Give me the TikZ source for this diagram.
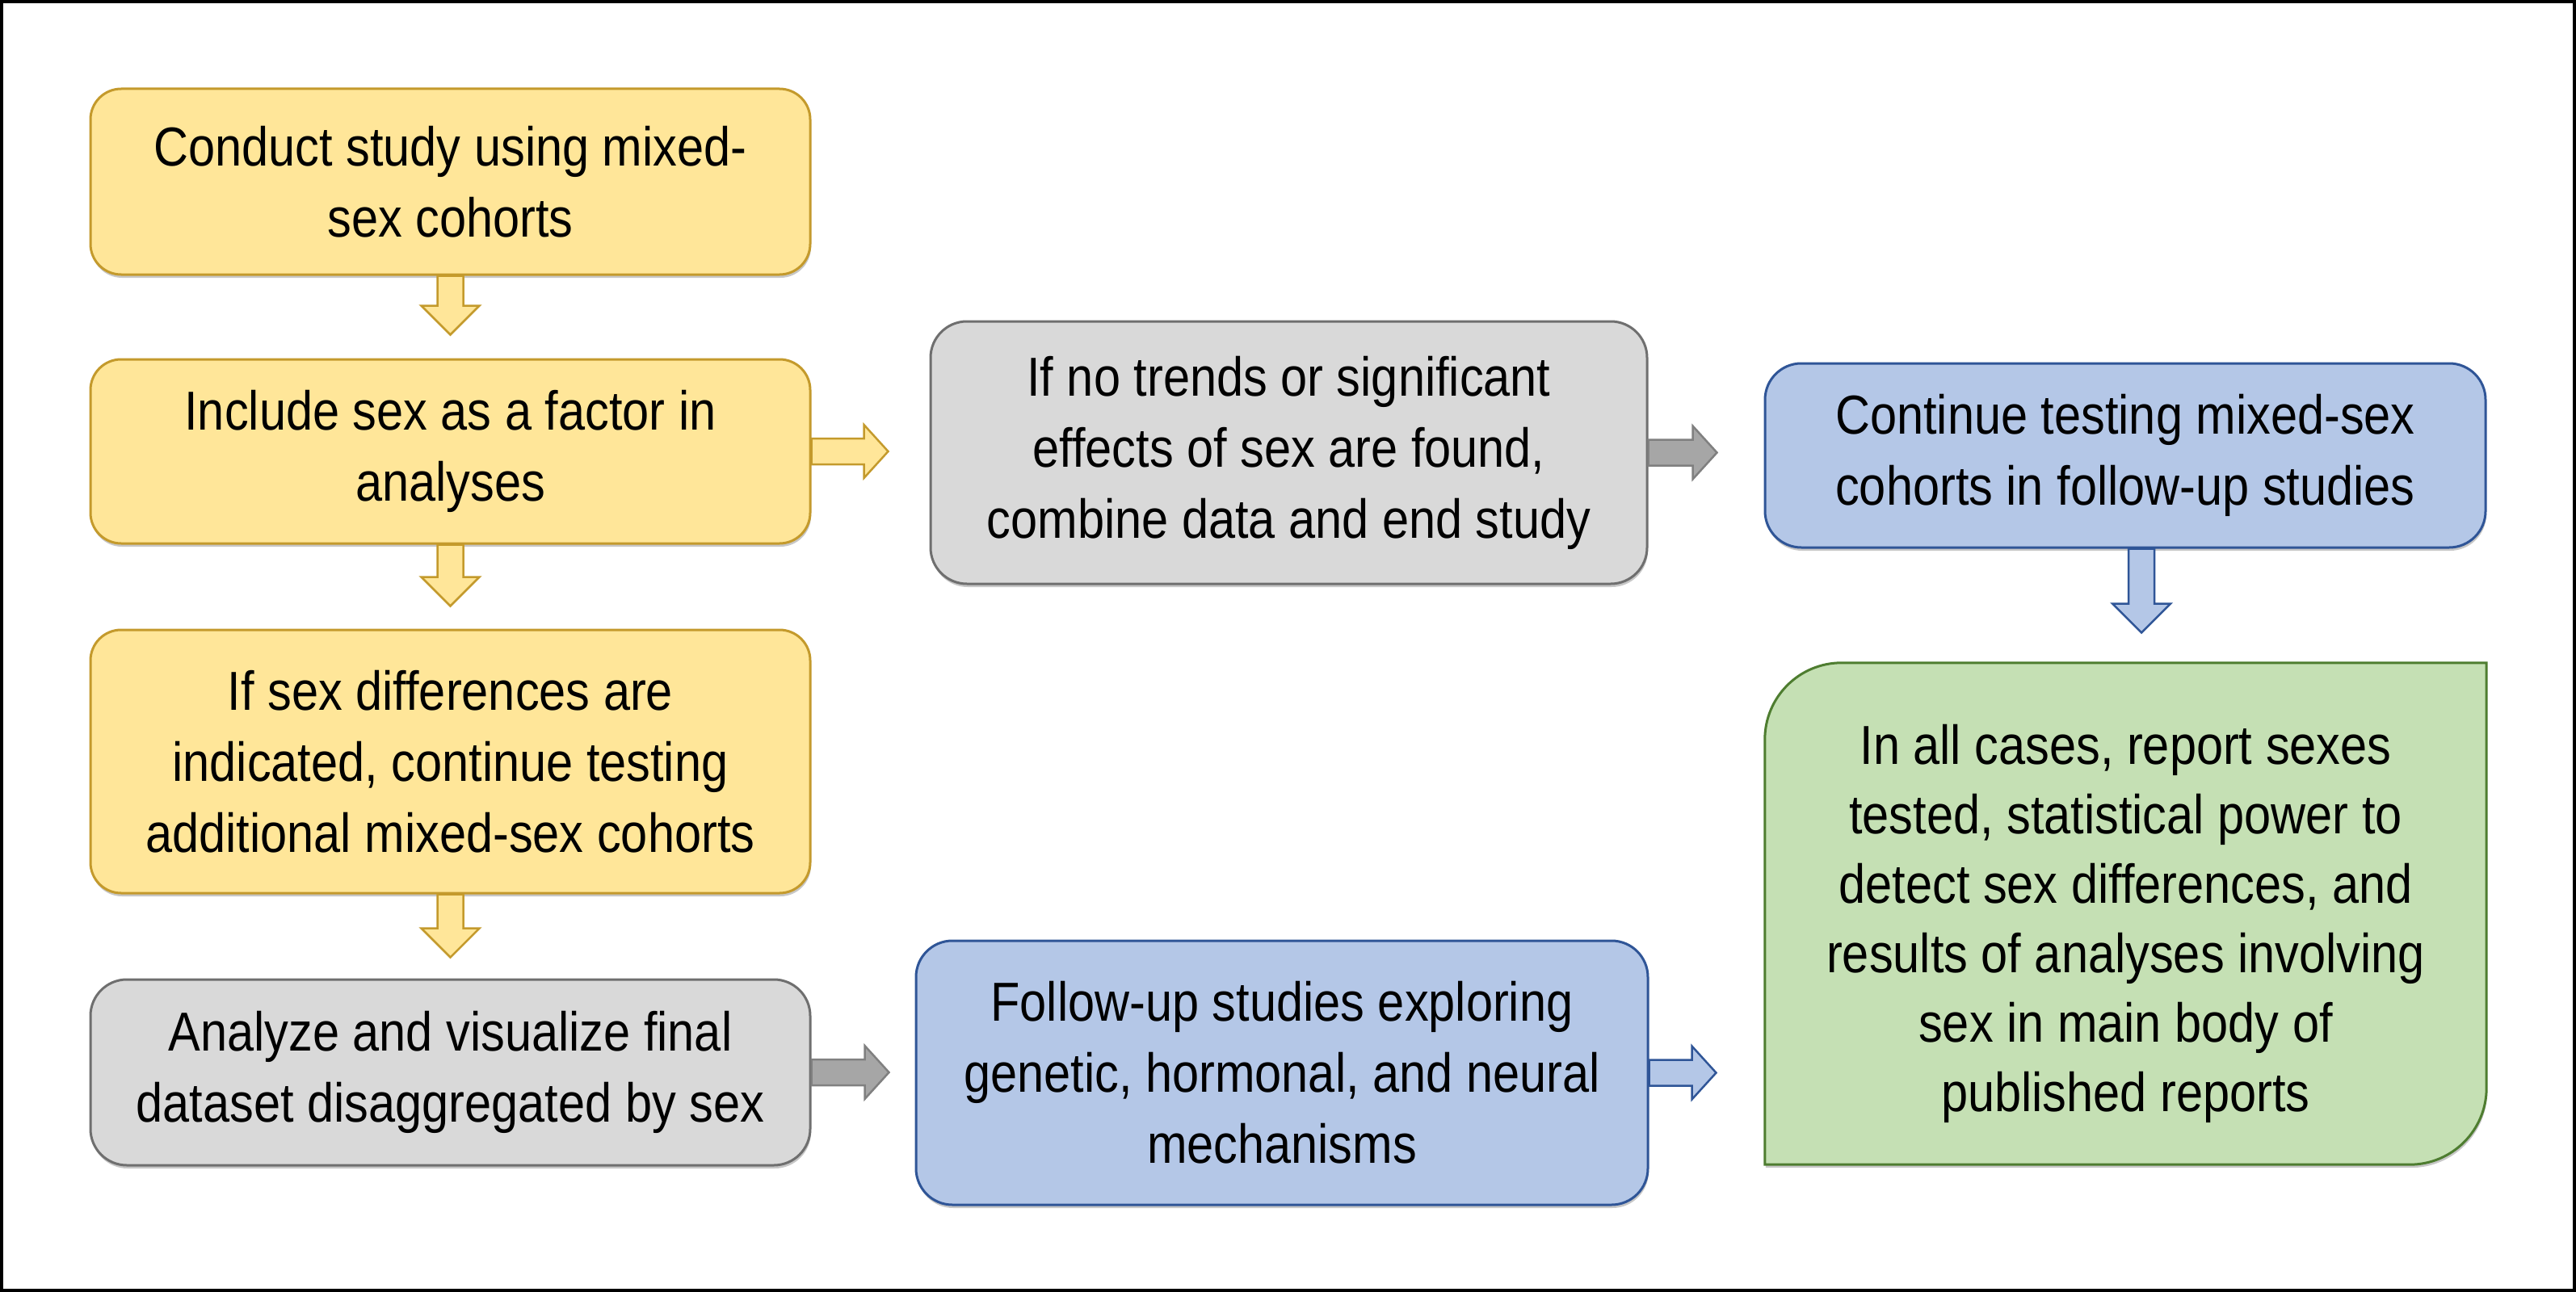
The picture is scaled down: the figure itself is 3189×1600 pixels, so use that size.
\documentclass[tikz,border=0pt]{standalone}
\usepackage{fontspec}
\setmainfont{Liberation Sans}[FakeStretch=0.875]
\usetikzlibrary{calc,shadows}
\definecolor{yfill}{HTML}{FFE699}
\definecolor{ydraw}{HTML}{C49A2C}
\definecolor{gfill}{HTML}{D9D9D9}
\definecolor{gdraw}{HTML}{6F6F6F}
\definecolor{bfill}{HTML}{B4C7E7}
\definecolor{bdraw}{HTML}{2F5597}
\definecolor{grfill}{HTML}{C5E0B4}
\definecolor{grdraw}{HTML}{4E7D30}
\definecolor{garrow}{HTML}{A6A6A6}
\definecolor{gadraw}{HTML}{808080}

\newcommand{\BlkDown}[3]{\draw[#1] (#2) ++(-16,0) -- ++(0,{#3-36}) -- ++(-20,0) -- ++(36,36) -- ++(36,-36) -- ++(-20,0) -- ++(0,{36-#3}) -- cycle;}
\newcommand{\BlkRight}[3]{\draw[#1] (#2) ++(0,-16) -- ++({#3-30},0) -- ++(0,-17) -- ++(30,33) -- ++(-30,33) -- ++(0,-17) -- ++({30-#3},0) -- cycle;}

\tikzset{
  softshadow/.style={drop shadow={shadow xshift=1pt, shadow yshift=-4pt, opacity=0.22, fill=black}},
  box/.style={rectangle, inner sep=0pt, align=center, font=\fontsize{68}{88}\selectfont, line width=3pt},
  ybox/.style={box, rounded corners=38pt, fill=yfill, draw=ydraw, softshadow},
  gbox/.style={box, rounded corners=45pt, fill=gfill, draw=gdraw, softshadow},
  bbox/.style={box, rounded corners=45pt, fill=bfill, draw=bdraw, softshadow},
  yarrow/.style={fill=yfill, draw=ydraw, line width=2.5pt, line join=miter},
  garr/.style={fill=garrow, draw=gadraw, line width=2.5pt, line join=miter},
  barrow/.style={fill=bfill, draw=bdraw, line width=2.5pt, line join=miter},
}

\begin{document}
\begin{tikzpicture}[x=1pt, y=-1pt]
\useasboundingbox (0,0) rectangle (3189,1600);
\fill[white] (0,0) rectangle (3189,1600);
\draw[line width=4pt] (2,2) rectangle (3187,1598);

% left column
\node[ybox, minimum width=891pt, minimum height=230pt] (y1) at (557.5,225) {Conduct study using mixed-\\sex cohorts};
\node[ybox, minimum width=891pt, minimum height=228pt] (y2) at (557.5,559) {Include sex as a factor in\\analyses};
\node[ybox, minimum width=891pt, minimum height=326pt] (y3) at (557.5,943) {If sex differences are\\indicated, continue testing\\additional mixed-sex cohorts};
\node[gbox, minimum width=891pt, minimum height=230pt] (g1) at (557.5,1328) {Analyze and visualize final\\dataset disaggregated by sex};

% middle column
\node[gbox, minimum width=887pt, minimum height=325pt] (gb) at (1595.5,560.5) {If no trends or significant\\effects of sex are found,\\combine data and end study};
\node[bbox, minimum width=906pt, minimum height=327pt] (b2) at (1587,1328.5) {Follow-up studies exploring\\genetic, hormonal, and neural\\mechanisms};

% right column
\node[bbox, minimum width=892pt, minimum height=228pt] (b1) at (2631,564) {Continue testing mixed-sex\\cohorts in follow-up studies};
\node[rectangle, inner sep=0pt, minimum width=893pt, minimum height=621pt] (grs) at (2631.5,1131.5) {};
\filldraw[fill=grfill, draw=grdraw, line width=3pt, softshadow]
  ($(grs.north west)+(95,0)$) -- (grs.north east) -- ($(grs.south east)+(0,-95)$)
  .. controls ($(grs.south east)+(0,-42.5)$) and ($(grs.south east)+(-42.5,0)$) .. ($(grs.south east)+(-95,0)$)
  -- (grs.south west) -- ($(grs.north west)+(0,95)$)
  .. controls ($(grs.north west)+(0,42.5)$) and ($(grs.north west)+(42.5,0)$) .. ($(grs.north west)+(95,0)$) -- cycle;
\node[box, font=\fontsize{68}{86}\selectfont] (gr) at ($(grs.center)+(0,12)$) {In all cases, report sexes\\tested, statistical power to\\detect sex differences, and\\results of analyses involving\\sex in main body of\\published reports};

% block arrows
\BlkDown{yarrow}{y1.south}{73}
\BlkDown{yarrow}{y2.south}{76}
\BlkDown{yarrow}{y3.south}{78}
\coordinate (b1out) at ($(b1.south)+(20,0)$);
\BlkDown{barrow}{b1out}{104}
\BlkRight{yarrow}{y2.east}{95}
\BlkRight{garr}{gb.east}{85}
\BlkRight{garr}{g1.east}{96}
\BlkRight{barrow}{b2.east}{83}
\end{tikzpicture}
\end{document}
